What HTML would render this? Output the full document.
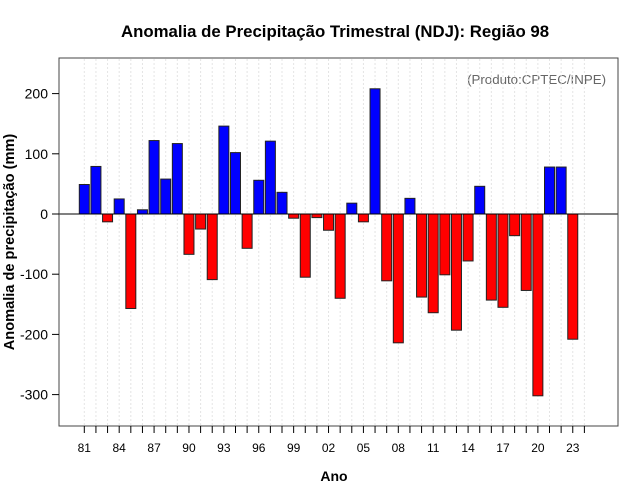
<!DOCTYPE html>
<html><head><meta charset="utf-8"><style>
body{margin:0;background:#fff;}
svg{display:block;font-family:"Liberation Sans",sans-serif;}
</style></head><body>
<svg id="chart" width="640" height="500" viewBox="0 0 640 500" xmlns="http://www.w3.org/2000/svg">
<rect width="640" height="500" fill="#fff"/>
<text x="335" y="37" text-anchor="middle" font-size="16.8" font-weight="bold">Anomalia de Precipitação Trimestral (NDJ): Região 98</text>
<text x="606" y="84" text-anchor="end" font-size="13.3" fill="#666">(Produto:CPTEC/INPE)</text>
<text transform="translate(14,242) rotate(-90)" text-anchor="middle" font-size="14.6" font-weight="bold">Anomalia de precipitação (mm)</text>
<text x="334" y="481" text-anchor="middle" font-size="14" font-weight="bold">Ano</text>
<g id="grid"></g>
<g id="bars"></g>
<line x1="59" x2="618" y1="214" y2="214" stroke="#000" stroke-width="1"/>
<rect x="59" y="58" width="559" height="368" fill="none" stroke="#444" stroke-width="1"/>
<g id="yaxis"></g>
<g id="xaxis"></g>
</svg>
<script>
const years = [];
for (let y = 1981; y <= 2023; y++) years.push(y);
const values = [49,79,-13,25,-157,7,122,58,117,-67,-25,-109,146,102,-57,56,121,36,-7,-105,-6,-27,-140,18,-13,208,-111,-214,26,-138,-164,-101,-193,-78,46,-143,-155,-36,-127,-302,78,78,-208];
const yTicks = [-300,-200,-100,0,100,200];
const NS = "http://www.w3.org/2000/svg";
function yScale(v){ return 214 - v*0.602; }
function xScale(yr){ return 84.3 + (yr-1981)*11.63; }
function mk(tag, attrs, parent){ const e=document.createElementNS(NS,tag); for(const k in attrs) e.setAttribute(k,attrs[k]); parent.appendChild(e); return e; }
const grid=document.getElementById('grid'), bars=document.getElementById('bars'), ya=document.getElementById('yaxis'), xa=document.getElementById('xaxis');
for (let yr=1981; yr<=2024; yr++){
  const x=xScale(yr);
  const g=mk('line',{x1:x,x2:x,y1:59,y2:425,stroke:'#e4e4e4','stroke-dasharray':'2,2'},grid);
  
  
  const t=mk('line',{x1:x,x2:x,y1:426,y2:433,stroke:'#000'},xa);
  
  
  if ((yr-1981)%3===0 && yr<=2023){
    const l=mk('text',{x:x,y:452,'text-anchor':'middle','font-size':'12'},xa);
    l.textContent=String(yr).slice(2);
    
    
  }
}
years.forEach((yr,i)=>{
  const v=values[i], x=xScale(yr);
  const y0=yScale(0), y1=yScale(v);
  const r=mk('rect',{x:x-5,y:Math.min(y0,y1),width:10,height:Math.abs(y1-y0),fill:v>=0?'#0000ff':'#ff0000',stroke:'#222','stroke-width':'1'},bars);
  
  
});
yTicks.forEach(v=>{
  const y=yScale(v);
  const t=mk('line',{x1:52,x2:59,y1:y,y2:y,stroke:'#000'},ya);
  
  
  const l=mk('text',{x:48,y:y+5,'text-anchor':'end','font-size':'14'},ya);
  l.textContent=String(v);
  
  
});
</script>
</body></html>
